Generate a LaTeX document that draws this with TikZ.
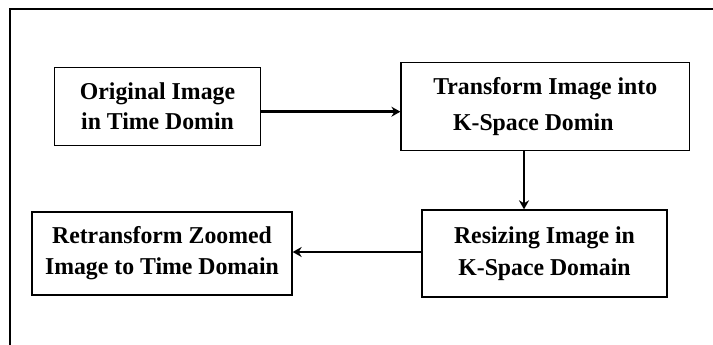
\documentclass[tikz,border=0pt]{standalone}
\usepackage{fontspec}
\setmainfont{Liberation Serif}
\usetikzlibrary{arrows.meta}
\newcommand{\wtxt}[1]{\scalebox{1.08}[1.1]{#1}}
\tikzset{
  box/.style={draw=black, line width=1.3pt, minimum width=#1, inner sep=0pt, font=\bfseries\fontsize{22}{30}\selectfont, align=center},
  flow/.style={line width=2.8pt, -{Stealth[length=9pt,width=10pt]}},
  frame/.style={line width=1.4pt}
}
\begin{document}
\begin{tikzpicture}[x=1pt,y=-1pt]
\useasboundingbox (0,0) rectangle (713,345);
\fill[white] (0,0) rectangle (713,345);
\draw[frame] (10,345) -- (10,9) -- (713,9);
\node[box=206pt, minimum height=78pt] (b1) at (157.5,106.7) {\wtxt{Original Image}\\\wtxt{in Time Domin}};
\node[box=288.5pt, minimum height=87.6pt, font=\bfseries\fontsize{22}{36}\selectfont] (b2) at (545.3,106.5) {\wtxt{Transform Image into}\\\wtxt{K-Space Domin}\hspace*{24pt}};
\node[box=245pt, minimum height=87pt, font=\bfseries\fontsize{22}{32}\selectfont] (b3) at (544.5,253.5) {\wtxt{Resizing Image in}\\\wtxt{K-Space Domain}};
\node[box=260pt, minimum height=83pt, font=\bfseries\fontsize{22}{31}\selectfont] (b4) at (162,253.5) {\wtxt{Retransform Zoomed}\\\wtxt{Image to Time Domain}};
\draw[flow] ([yshift=-5pt]b1.east) -- ([yshift=-5pt]b1.east -| b2.west);
\draw[flow] ([xshift=-21.3pt]b2.south) -- ([xshift=-21.3pt]b2.south |- b3.north);
\draw[flow] ([yshift=1.5pt]b3.west) -- ([yshift=1.5pt]b3.west -| b4.east);
\end{tikzpicture}
\end{document}
